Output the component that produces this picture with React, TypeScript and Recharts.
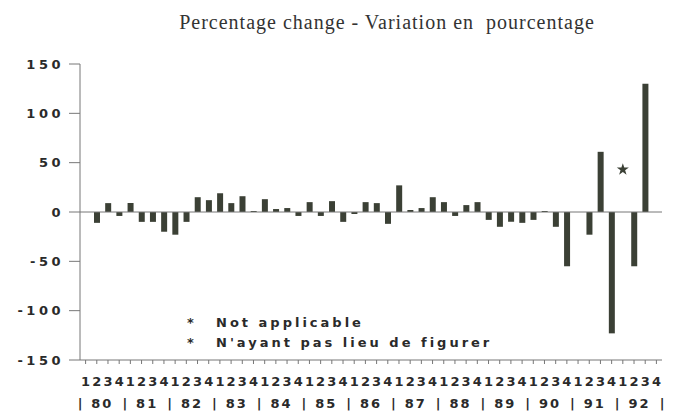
import React from 'react';
import {
  ComposedChart, Bar, XAxis, YAxis, ReferenceLine, ReferenceDot, Symbols,
} from 'recharts';

// quarterly % change, 1980Q1 .. 1992Q4 (null = no bar)
const years = ['80', '81', '82', '83', '84', '85', '86', '87', '88', '89', '90', '91', '92'];
const quarters = ['1', '2', '3', '4'];
const changeValues: (number | null)[] = [
  null, -11, 9, -4,
  9, -10, -10, -20,
  -23, -10, 15, 12,
  19, 9, 16, 1,
  13, 3, 4, -4,
  10, -4, 11, -10,
  -2, 10, 9, -12,
  27, 2, 4, 15,
  10, -4, 7, 10,
  -8, -15, -10, -11,
  -8, 1, -15, -55,
  0, -23, 61, -123,
  null, -55, 130, null,
];
const yTicks = [-150, -100, -50, 0, 50, 100, 150];
// "not applicable" marker: 1992 Q1
const naKey = '92-1';
const naValue = 43;

const data = years.flatMap((y, yi) =>
  quarters.map((q, qi) => ({ key: `${y}-${q}`, change: changeValues[yi * 4 + qi] })),
);

const W = 674;
const H = 413;
const MARGIN = { top: 64, right: 12, bottom: 0, left: 0 };
const Y_W = 80;
const BAND = (W - MARGIN.right - MARGIN.left - Y_W) / data.length;

const BOLD = { fontFamily: 'DejaVu Sans', fontWeight: 'bold', fontSize: 13, fill: '#2a2a2a' };
const AXIS = '#777';
const BAR = '#3b4035';

// quarter digit on the first row, "| yy |" on the second row
function QuarterTick(props: any) {
  const { x, y, payload } = props;
  const index = props.index ?? payload.index;
  const [yr, q] = String(payload.value).split('-');
  const y2 = y + 22;
  return (
    <g>
      <text x={x} y={y} dy="0.71em" textAnchor="middle" {...BOLD}>{q}</text>
      {index % 4 === 0 && (
        <>
          <text x={x - BAND / 2} y={y2} dy="0.71em" textAnchor="middle" {...BOLD}>|</text>
          <text x={x + BAND * 1.5} y={y2} dy="0.71em" textAnchor="middle" {...BOLD} letterSpacing={2}>{yr}</text>
        </>
      )}
      {index === data.length - 1 && (
        <text x={x + BAND / 2} y={y2} dy="0.71em" textAnchor="middle" {...BOLD}>|</text>
      )}
    </g>
  );
}

export default function App() {
  return (
    <div style={{ position: 'absolute', left: 0, top: 0, width: W, height: H, background: '#fff' }}>
      <div
        style={{
          position: 'absolute', left: 0, width: 774, top: 11, textAlign: 'center',
          fontFamily: 'Liberation Serif', fontSize: 20, letterSpacing: 1, color: '#333',
        }}
      >
        Percentage change - Variation en&nbsp; pourcentage
      </div>

      <ComposedChart width={W} height={H} data={data} margin={MARGIN} barCategoryGap="25%">
        <YAxis
          domain={[-150, 150]} ticks={yTicks} width={Y_W} interval={0}
          tick={{ ...BOLD, letterSpacing: 3.5 }} tickSize={11} tickMargin={5}
          axisLine={{ stroke: AXIS }} tickLine={{ stroke: AXIS }}
        />
        <XAxis
          dataKey="key" interval={0} height={53} tickSize={4} tickMargin={13}
          tick={<QuarterTick />} axisLine={{ stroke: AXIS }} tickLine={{ stroke: AXIS }}
        />
        <ReferenceLine y={0} stroke={AXIS} />
        <Bar dataKey="change" fill={BAR} isAnimationActive={false} />
        <ReferenceDot
          x={naKey} y={naValue} r={4}
          shape={(p: any) => <Symbols cx={p.cx} cy={p.cy} type="star" size={45} fill={BAR} />}
        />
      </ComposedChart>

      <div style={{ position: 'absolute', left: 187, top: 313, fontFamily: 'DejaVu Sans', fontWeight: 'bold', fontSize: 13, lineHeight: '20px', color: '#2a2a2a', letterSpacing: 3 }}>
        <div><span style={{ display: 'inline-block', width: 29 }}>*</span>Not applicable</div>
        <div><span style={{ display: 'inline-block', width: 29 }}>*</span>N'ayant pas lieu de figurer</div>
      </div>
    </div>
  );
}
